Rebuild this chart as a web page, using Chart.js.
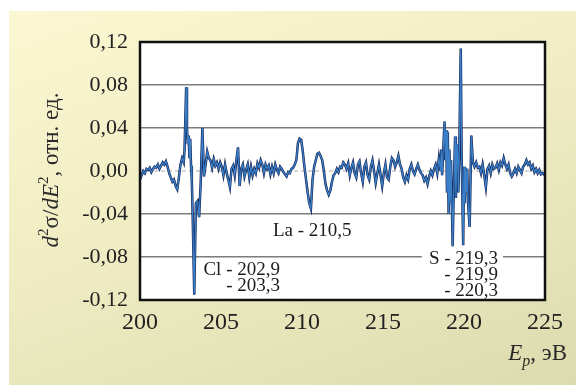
<!DOCTYPE html>
<html>
<head>
<meta charset="utf-8">
<script src="https://cdn.jsdelivr.net/npm/chart.js@4.4.1/dist/chart.umd.min.js"></script>
<style>
  html, body { margin: 0; padding: 0; background: #fff; }
  body { width: 576px; height: 385px; position: relative; overflow: hidden; }
  .card {
    position: absolute; left: 9px; top: 11px; width: 567px; height: 374px;
    background: linear-gradient(160deg, #fbf7d2 0%, #f0edc4 45%, #dcdbae 100%);
  }
  #spectrum { position: absolute; left: 0; top: 0; }
</style>
</head>
<body>
<div class="card"></div>
<canvas id="spectrum" width="576" height="385"></canvas>
<script>
/* energy grid, eV */
const energyEv = [
  200.0, 200.1, 200.2, 200.3, 200.4, 200.5, 200.6, 200.7, 200.8, 200.9,
  201.0, 201.1, 201.2, 201.3, 201.4, 201.5, 201.6, 201.7, 201.8, 201.9,
  202.0, 202.1, 202.2, 202.3, 202.4, 202.5, 202.6, 202.7,
  // Cl
  202.75, 202.85, 202.9, 202.95, 203.0, 203.05, 203.1, 203.15, 203.2, 203.25,
  203.35, 203.45, 203.55, 203.65, 203.75, 203.85, 203.95,
  204.05, 204.15, 204.25, 204.35, 204.45, 204.55, 204.65, 204.75, 204.85, 204.95,
  205.05, 205.15, 205.25, 205.35, 205.45, 205.55, 205.65, 205.75, 205.85, 205.95,
  206.05, 206.15, 206.25, 206.35, 206.45, 206.55, 206.65, 206.75, 206.85, 206.95,
  207.05, 207.15, 207.25, 207.35, 207.45, 207.55, 207.65, 207.75, 207.85, 207.95,
  208.05, 208.15, 208.25, 208.35, 208.45, 208.55, 208.65, 208.75, 208.85, 208.95,
  209.05, 209.15, 209.25, 209.35, 209.45, 209.55, 209.65, 209.75, 209.85, 209.95,
  210.05, 210.15, 210.25, 210.35, 210.45, 210.55, 210.65, 210.75, 210.85, 210.95,
  211.05, 211.15, 211.25, 211.35, 211.45, 211.55, 211.65, 211.75, 211.85, 211.95,
  212.05, 212.15, 212.25, 212.35, 212.45, 212.55, 212.65, 212.75, 212.85, 212.95,
  213.05, 213.15, 213.25, 213.35, 213.45, 213.55, 213.65, 213.75, 213.85, 213.95,
  214.05, 214.15, 214.25, 214.35, 214.45, 214.55, 214.65, 214.75, 214.85, 214.95,
  215.05, 215.15, 215.25, 215.35, 215.45, 215.55, 215.65, 215.75, 215.85, 215.95,
  216.05, 216.15, 216.25, 216.35, 216.45, 216.55, 216.65, 216.75, 216.85, 216.95,
  217.05, 217.15, 217.25, 217.35, 217.45, 217.55, 217.65, 217.75, 217.85, 217.95,
  218.05, 218.15, 218.25, 218.35, 218.45, 218.55,
  // S
  218.6, 218.65, 218.75, 218.8, 218.85, 218.9, 218.95, 219.0, 219.05, 219.1,
  219.15, 219.2, 219.3, 219.35, 219.45, 219.5, 219.55, 219.6, 219.65, 219.7,
  219.8, 219.85, 219.95, 220.0, 220.05, 220.1, 220.15, 220.2, 220.25, 220.35,
  220.45, 220.55,
  220.65, 220.75, 220.85, 220.95, 221.05, 221.15, 221.25, 221.35, 221.45, 221.55,
  221.65, 221.75, 221.85, 221.95, 222.05, 222.15, 222.25, 222.35, 222.45, 222.55,
  222.65, 222.75, 222.85, 222.95, 223.05, 223.15, 223.25, 223.35, 223.45, 223.55,
  223.65, 223.75, 223.85, 223.95, 224.05, 224.15, 224.25, 224.35, 224.45, 224.55,
  224.65, 224.75, 224.85, 225.0
];

/* d2sigma/dE2, rel. units */
const d2sigma = [
  -0.008, -0.004, 0.000, -0.002, 0.002, 0.001, 0.003, -0.001, 0.002, 0.004,
  0.003, 0.006, 0.002, 0.005, 0.008, 0.006, 0.009, 0.004, -0.002, -0.006,
  -0.010, -0.008, -0.014, -0.017, -0.006, 0.006, 0.012, 0.008,
  0.020, 0.078, 0.040, 0.025, 0.033, 0.012, 0.030, 0.005, -0.010, -0.040,
  -0.115, -0.030, -0.028, -0.043, -0.010, 0.040, -0.005,
  0.006, 0.018, 0.012, 0.010, 0.003, 0.011, 0.005, 0.008, 0.002, 0.008,
  0.004, -0.004, 0.006, -0.002, -0.008, -0.015, 0.002, 0.005, -0.004, 0.010,
  0.022, -0.014, 0.002, 0.006, -0.005, 0.001, 0.006, -0.006, 0.004, -0.004,
  0.002, -0.002, 0.007, 0.003, 0.010, 0.006, -0.002, 0.006, 0.002, 0.005,
  -0.003, 0.004, -0.002, 0.006, 0.001, -0.002, 0.004, 0.002, -0.001, -0.003,
  -0.005, -0.001, -0.002, 0.002, 0.003, 0.006, 0.010, 0.026, 0.030, 0.029,
  0.018, 0.004, -0.008, -0.020, -0.030, -0.035, -0.008, 0.004, 0.010, 0.016,
  0.017, 0.014, 0.010, 0.000, -0.012, -0.018, -0.022, -0.018, -0.010, -0.004,
  -0.002, 0.002, -0.001, 0.004, 0.003, 0.008, 0.006, 0.002, 0.007, -0.004,
  0.003, 0.008, -0.002, -0.006, 0.006, 0.009, -0.002, -0.010, 0.004, 0.008,
  -0.004, -0.008, 0.004, 0.010, 0.000, -0.011, -0.002, 0.006, -0.004, -0.014,
  -0.002, 0.006, -0.006, -0.008, 0.004, 0.012, 0.010, 0.004, 0.008, 0.014,
  0.006, 0.002, -0.006, -0.010, -0.004, -0.008, 0.002, 0.006, 0.000, -0.003,
  0.002, 0.006, 0.001, -0.002, -0.004, -0.009, -0.006, -0.012, -0.005, 0.000,
  -0.004, 0.002, 0.006, -0.002, 0.012, 0.000,
  0.020, -0.004, 0.030, 0.046, 0.010, 0.038, -0.020, 0.036, -0.040, 0.020,
  -0.030, 0.010, -0.070, -0.030, 0.032, -0.025, 0.020, 0.025, -0.020, 0.010,
  0.114, 0.020, -0.069, 0.004, -0.030, 0.003, -0.020, 0.002, -0.030, -0.052,
  0.033, 0.008,
  0.004, 0.008, 0.003, 0.004, -0.002, 0.006, -0.004, -0.015, 0.002, 0.005,
  -0.002, 0.006, 0.002, 0.003, 0.007, 0.001, 0.008, 0.005, 0.012, 0.006,
  0.002, 0.006, -0.002, -0.005, -0.002, 0.002, -0.002, 0.004, 0.001, -0.002,
  0.004, 0.006, 0.010, 0.006, 0.008, 0.002, 0.005, -0.001, 0.002, -0.002,
  0.001, -0.003, -0.002, -0.004
];

const xTicks = [200, 205, 210, 215, 220, 225];
const yTicks = [-0.12, -0.08, -0.04, 0, 0.04, 0.08, 0.12];

const peakNotes = [
  { lines: ['Cl - 202,9', '- 203,3'], x: 208.64, y: -0.0967, align: 'right' },
  { lines: ['La - 210,5'], x: 208.21, y: -0.0605, align: 'left' },
  { lines: ['S - 219,3', '- 219,9', '- 220,3'], x: 222.1, y: -0.0865, align: 'right', box: true }
];

const SERIF = "'Liberation Serif', 'DejaVu Serif', serif";
const points = energyEv.map((e, i) => ({ x: e, y: d2sigma[i] }));

function drawRuns(ctx, runs, x, y) {
  runs.forEach(r => {
    ctx.font = r.font;
    ctx.fillText(r.t, x, y + (r.dy || 0));
    x += ctx.measureText(r.t).width;
  });
}
function runsWidth(ctx, runs) {
  return runs.reduce((w, r) => { ctx.font = r.font; return w + ctx.measureText(r.t).width; }, 0);
}

const framePlugin = {
  id: 'frame',
  beforeDraw(chart) {
    const { ctx, chartArea: a } = chart;
    ctx.save();
    ctx.fillStyle = '#ffffff';
    ctx.fillRect(a.left, a.top, a.width, a.height);
    ctx.restore();
  },
  beforeDatasetsDraw(chart) {
    const { ctx, chartArea: a, scales } = chart;
    const y0 = scales.y.getPixelForValue(0);
    ctx.save();
    ctx.strokeStyle = '#a8a8a8';
    ctx.lineWidth = 1;
    ctx.setLineDash([4, 3]);
    ctx.beginPath();
    ctx.moveTo(a.left, y0);
    ctx.lineTo(a.right, y0);
    ctx.stroke();
    ctx.restore();
  },
  afterDatasetsDraw(chart) {
    const { ctx, chartArea: a, scales } = chart;
    ctx.save();

    // peak labels
    ctx.font = '19px ' + SERIF;
    ctx.textBaseline = 'alphabetic';
    peakNotes.forEach(n => {
      const px = scales.x.getPixelForValue(n.x);
      const py = scales.y.getPixelForValue(n.y);
      if (n.box) {
        const w = ctx.measureText(n.lines[0]).width;
        const left = n.align === 'right' ? px - w : px;
        ctx.fillStyle = '#ffffff';
        ctx.fillRect(left - 7, py - 13, w + 12, 11);
      }
      ctx.fillStyle = '#1c1c1c';
      ctx.textAlign = n.align;
      n.lines.forEach((t, i) => ctx.fillText(t, px, py + i * 16));
    });

    // plot frame
    ctx.strokeStyle = '#111111';
    ctx.lineWidth = 2.5;
    ctx.strokeRect(a.left, a.top, a.width, a.height);

    // y axis title
    ctx.fillStyle = '#2a2a2a';
    ctx.textAlign = 'left';
    const yRuns = [
      { t: 'd', font: 'italic 23px ' + SERIF },
      { t: '2', font: '15px ' + SERIF, dy: -10 },
      { t: 'σ/', font: '23px ' + SERIF },
      { t: 'dE', font: 'italic 23px ' + SERIF },
      { t: '2', font: '15px ' + SERIF, dy: -10 },
      { t: ', отн. ед.', font: '23px ' + SERIF }
    ];
    const yw = runsWidth(ctx, yRuns);
    ctx.save();
    ctx.translate(58, 170);
    ctx.rotate(-Math.PI / 2);
    drawRuns(ctx, yRuns, -yw / 2, 0);
    ctx.restore();

    // x axis title
    const xRuns = [
      { t: 'E', font: 'italic 23px ' + SERIF },
      { t: 'p', font: 'italic 16px ' + SERIF, dy: 6 },
      { t: ', эВ', font: '23px ' + SERIF }
    ];
    drawRuns(ctx, xRuns, 567 - runsWidth(ctx, xRuns), 360);

    ctx.restore();
  }
};

new Chart(document.getElementById('spectrum'), {
  type: 'line',
  data: {
    datasets: [
      { data: points, borderColor: '#3a7fc8', borderWidth: 1.3, pointRadius: 0, tension: 0, order: 0 },
      { data: points, borderColor: '#142352', borderWidth: 2.5, pointRadius: 0, tension: 0, order: 1 }
    ]
  },
  options: {
    responsive: false,
    animation: false,
    layout: { padding: { top: 42, right: 31, left: 0, bottom: 0 } },
    plugins: { legend: { display: false }, tooltip: { enabled: false } },
    scales: {
      x: {
        type: 'linear', min: 200, max: 225,
        afterBuildTicks: s => { s.ticks = xTicks.map(v => ({ value: v })); },
        afterFit: s => { s.height = 85; },
        grid: { display: false, drawTicks: false },
        border: { display: false },
        ticks: {
          autoSkip: false, maxRotation: 0, padding: 8, color: '#222',
          font: { family: SERIF, size: 24 },
          callback: v => String(v)
        }
      },
      y: {
        type: 'linear', min: -0.12, max: 0.12,
        afterBuildTicks: s => { s.ticks = yTicks.map(v => ({ value: v })); },
        afterFit: s => { s.width = 140; },
        grid: {
          drawTicks: false, lineWidth: 1.5,
          color: c => (c.tick && Math.abs(c.tick.value) < 1e-9) ? 'rgba(0,0,0,0)' : '#7c7c7c'
        },
        border: { display: false },
        ticks: {
          autoSkip: false, padding: 12, color: '#222',
          font: { family: SERIF, size: 22 },
          callback: v => v.toFixed(2).replace('.', ',')
        }
      }
    }
  },
  plugins: [framePlugin]
});
</script>
</body>
</html>
